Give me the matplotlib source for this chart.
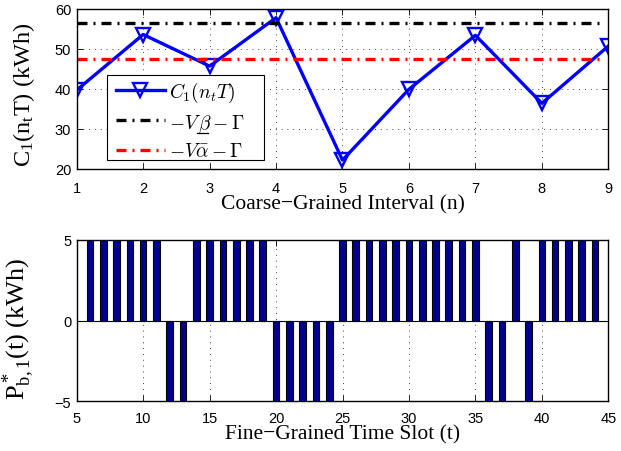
import matplotlib
matplotlib.use("Agg")
import matplotlib.pyplot as plt
from matplotlib.lines import Line2D
from matplotlib.patches import Rectangle
from matplotlib.font_manager import FontProperties

# ---- data ----
coarse_n = [1, 2, 3, 4, 5, 6, 7, 8, 9]
c1_values = [39.6, 53.5, 45.6, 57.7, 22.1, 39.8, 53.3, 36.3, 50.6]
beta_level = 56.3
alpha_level = 47.3

fine_t = list(range(6, 45))
pb_values = [5, 5, 5, 5, 5, 5,            # 6-11
             -5, -5,                      # 12-13
             5, 5, 5, 5, 5, 5,            # 14-19
             -5, -5, -5, -5, -5,          # 20-24
             5, 5, 5, 5, 5, 5, 5, 5, 5, 5, 5,  # 25-35
             -5, -5,                      # 36-37
             5,                           # 38
             -5,                          # 39
             5, 5, 5, 5, 5]               # 40-44

top_xticks = [1, 2, 3, 4, 5, 6, 7, 8, 9]
top_yticks = [20, 30, 40, 50, 60]
bot_xticks = [5, 10, 15, 20, 25, 30, 35, 40, 45]
bot_yticks = [-5, 0, 5]

plt.rcParams['mathtext.fontset'] = 'custom'
plt.rcParams['mathtext.rm'] = 'Liberation Serif'
plt.rcParams['mathtext.it'] = 'Liberation Serif:italic'
plt.rcParams['mathtext.bf'] = 'Liberation Serif:bold'
tick_font = 'Liberation Sans'
label_font = 'Liberation Serif'
grid_style = (0, (1, 6))
dashdot = (0, (3.0, 1.8, 0.6, 1.8))

W, H = 621, 452
fig = plt.figure(figsize=(W/100, H/100), dpi=100)
ax1 = fig.add_axes([76.7/W, 1-169.5/H, (608.3-76.7)/W, 160/H])
ax2 = fig.add_axes([76.7/W, 1-402/H, (608.3-76.7)/W, 161/H])

for ax in (ax1, ax2):
    ax.tick_params(direction='in', top=True, right=True, length=4, width=0.6,
                   labelsize=10.5)
    ax.tick_params(axis='y', pad=4)
    for s in ax.spines.values():
        s.set_linewidth(1.0)
    ax.grid(True, linestyle=grid_style, color='black', linewidth=0.6)
    ax.set_axisbelow(True)
ax1.tick_params(axis='x', pad=9)
ax2.tick_params(axis='x', pad=7.5)

# top
l1, = ax1.plot(coarse_n, c1_values, color='#0000ff', linewidth=2.4, marker='v',
               markersize=9.5, markerfacecolor='none', markeredgewidth=1.7)
l2 = ax1.axhline(beta_level, color='black', linewidth=2.4, linestyle=dashdot,
                 xmin=0, xmax=0.99)
l3 = ax1.axhline(alpha_level, color='red', linewidth=2.4, linestyle=dashdot,
                 xmin=0, xmax=0.99)
ax1.set_xlim(1, 9)
ax1.set_ylim(20, 60)
ax1.set_xticks(top_xticks)
ax1.set_yticks(top_yticks)
ax1.set_xticklabels([str(v) for v in top_xticks], fontfamily=tick_font)
ax1.set_yticklabels([str(v) for v in top_yticks], fontfamily=tick_font)
ax1.set_xlabel('Coarse\u2212Grained Interval (n)', fontfamily=label_font, fontsize=15.5, labelpad=-0.5)
ax1.set_ylabel(r'C$_\mathrm{1}$(n$_\mathrm{t}$T) (kWh)', fontfamily=label_font, fontsize=17.5)

# legend frame (drawn manually so its size matches the reference)
frame = Rectangle((107/W, 1-161/H), 157/W, 85/H, transform=fig.transFigure,
                  facecolor='white', edgecolor='black', linewidth=0.8, zorder=4.5,
                  clip_on=False)
ax1.add_patch(frame)

leg_prop = FontProperties(size=14, math_fontfamily='cm')
leg = ax1.legend([l1, l2, l3],
                 [r'$C_1(n_tT)$', r'$-V\,\beta-\Gamma$', r'$-V\bar{\alpha}-\Gamma$'],
                 loc='upper left', bbox_to_anchor=(0.061, 0.595), prop=leg_prop,
                 frameon=False, handlelength=2.5, borderpad=0.35, labelspacing=0.4,
                 handletextpad=0.25, borderaxespad=0)
leg.set_zorder(6)

# bottom
ax2.bar(fine_t, pb_values, width=0.5, color='#00008f', edgecolor='black', linewidth=0.8,
        zorder=3)
ax2.axhline(0, color='black', linewidth=0.8, zorder=4)
ax2.set_xlim(5, 45)
ax2.set_ylim(-5, 5)
ax2.set_xticks(bot_xticks)
ax2.set_yticks(bot_yticks)
ax2.set_xticklabels([str(v) for v in bot_xticks], fontfamily=tick_font)
ax2.set_yticklabels(['\u22125', '0', '5'], fontfamily=tick_font)
ax2.set_xlabel('Fine\u2212Grained Time Slot (t)', fontfamily=label_font, fontsize=15.5, labelpad=-1)
ax2.set_ylabel(r'P$^*_\mathrm{b,1}$(t) (kWh)', fontfamily=label_font, fontsize=19)
ax1.yaxis.set_label_coords(-0.074, 0.469)
ax2.yaxis.set_label_coords(-0.074, 0.453)

# underline beta in legend
fig.canvas.draw()
txt = leg.get_texts()[1]
bb = txt.get_window_extent()
inv = fig.transFigure.inverted()
x0 = bb.x0 + 0.36 * bb.width
x1 = bb.x0 + 0.51 * bb.width
y = bb.y0 + 1.0
(fx0, fy), (fx1, _) = inv.transform([(x0, y), (x1, y)])
fig.add_artist(Line2D([fx0, fx1], [fy, fy], color='black', linewidth=0.9,
                      transform=fig.transFigure, zorder=10))

fig.savefig('out.png', dpi=100)
